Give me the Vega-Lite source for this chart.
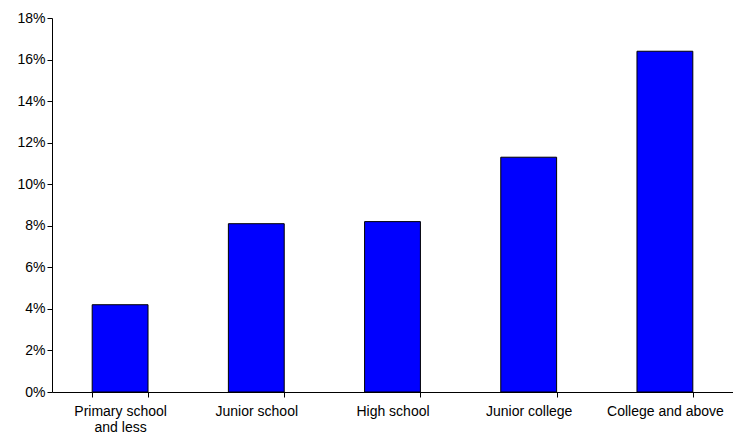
{
  "$schema": "https://vega.github.io/schema/vega-lite/v6.json",
  "width": 681,
  "height": 374,
  "autosize": "none",
  "padding": {"left": 52, "top": 18, "right": 0, "bottom": 49},
  "background": "white",
  "config": {
    "view": {"stroke": null},
    "font": "Liberation Sans",
    "axis": {"grid": false, "domainColor": "black", "tickColor": "black", "labelColor": "black", "labelFontSize": 14, "labelFont": "Liberation Sans"}
  },
  "data": {
    "values": [
      {"level": "Primary school|and less", "share": 0.042},
      {"level": "Junior school", "share": 0.081},
      {"level": "High school", "share": 0.082},
      {"level": "Junior college", "share": 0.113},
      {"level": "College and above", "share": 0.164}
    ]
  },
  "mark": {"type": "bar", "color": "#0000ff", "stroke": "black", "strokeWidth": 1},
  "encoding": {
    "x": {
      "field": "level", "type": "nominal", "sort": null, "title": null,
      "scale": {"paddingInner": 0.59, "paddingOuter": 0.295},
      "axis": {"labelAngle": 0, "tickBand": "extent", "tickSize": 5, "labelPadding": 7, "labelExpr": "split(datum.label, '|')", "labelLineHeight": 16, "labelOverlap": false, "labelBound": false}
    },
    "y": {
      "field": "share", "type": "quantitative", "title": null,
      "scale": {"domain": [0, 0.18]},
      "axis": {"format": ".0%", "values": [0, 0.02, 0.04, 0.06, 0.08, 0.1, 0.12, 0.14, 0.16, 0.18], "tickSize": 5}
    }
  }
}
